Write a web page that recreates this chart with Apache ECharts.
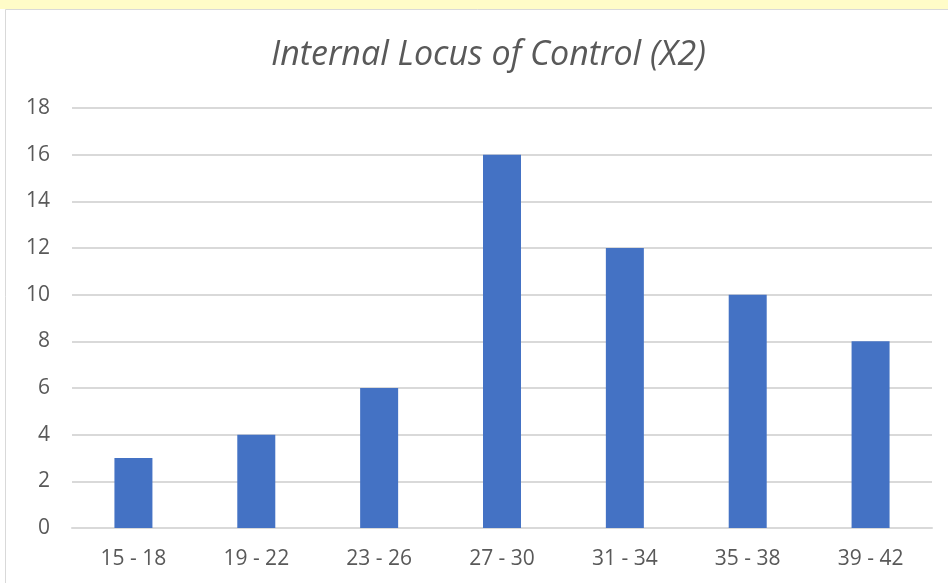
<!DOCTYPE html>
<html>
<head>
<meta charset="utf-8">
<script src="https://cdn.jsdelivr.net/npm/echarts@6/dist/echarts.min.js"></script>
<style>
  html, body { margin: 0; padding: 0; background: #fff; }
  #main { width: 948px; height: 583px; }
</style>
</head>
<body>
<div id="main"></div>
<script>
var categories = ['15 - 18', '19 - 22', '23 - 26', '27 - 30', '31 - 34', '35 - 38', '39 - 42'];
var counts = [3, 4, 6, 16, 12, 10, 8];
var titleText = 'Internal Locus of Control (X2)';

var myChart = echarts.init(document.getElementById('main'));
myChart.setOption({
    backgroundColor: '#fff',
    animation: false,
    graphic: [
        // pale band above the chart frame
        { type: 'rect', shape: { x: 0, y: 0, width: 948, height: 9 }, style: { fill: '#fffcc8' }, z: -2 },
        // chart frame
        { type: 'rect', shape: { x: 5.5, y: 9.5, width: 960, height: 600 }, style: { fill: '#fff', stroke: '#d9d9d9', lineWidth: 1 }, z: -1 }
    ],
    title: {
        text: titleText,
        left: 266,
        top: 33,
        textStyle: {
            fontFamily: 'Open Sans',
            fontStyle: 'italic',
            fontWeight: 'normal',
            fontSize: 34,
            color: '#595959'
        }
    },
    grid: { left: 72, right: 16, top: 108, bottom: 55, containLabel: false },
    xAxis: {
        type: 'category',
        data: categories,
        axisLine: { show: true, lineStyle: { color: '#d9d9d9', width: 2 } },
        axisTick: { show: false },
        axisLabel: { color: '#595959', fontSize: 21, fontFamily: 'Open Sans', margin: 21 }
    },
    yAxis: {
        type: 'value',
        min: 0,
        max: 18,
        interval: 2,
        axisLine: { show: false },
        axisTick: { show: false },
        splitLine: { lineStyle: { color: '#d9d9d9', width: 2 } },
        axisLabel: { color: '#595959', fontSize: 21, fontFamily: 'Open Sans', margin: 22 }
    },
    series: [{
        type: 'bar',
        data: counts,
        barWidth: 38,
        itemStyle: { color: '#4472c4' }
    }]
});
</script>
</body>
</html>
